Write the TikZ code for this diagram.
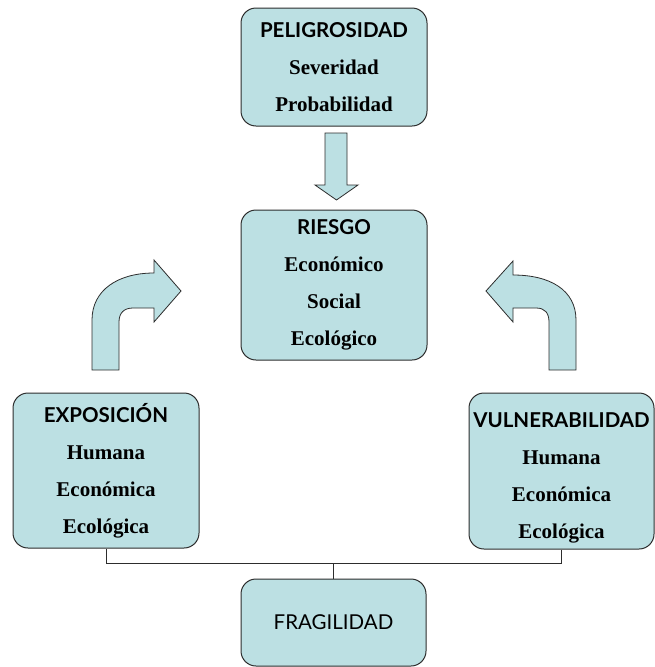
\documentclass[tikz,border=0pt]{standalone}
\usepackage{fontspec}
\setmainfont{Liberation Serif}
\newfontfamily\headfont{Lato}
\definecolor{boxfill}{RGB}{188,224,227}
\definecolor{boxline}{RGB}{45,45,45}
\newcommand{\boxhead}[1]{{\headfont\bfseries\fontsize{20.5}{37}\selectfont #1}}

\begin{document}
\begin{tikzpicture}[x=1pt, y=-1pt,
    box/.style={draw=boxline, fill=boxfill, rounded corners=15pt, line width=1pt,
      minimum width=186pt, inner sep=0pt, align=center,
      font=\fontsize{21}{37}\selectfont\bfseries},
    blockarrow/.style={draw=boxline, fill=boxfill, line width=0.8pt},
    link/.style={draw=boxline, line width=0.8pt}]
    \useasboundingbox (0,0) rectangle (655,667);

    \node (pel) at (334, 67) [box, minimum height=118pt] {\boxhead{PELIGROSIDAD}\\ Severidad\\ Probabilidad};
    \node (riesgo) at (334, 285) [box, minimum height=150pt] {\boxhead{RIESGO}\\ Económico\\ Social\\ Ecológico};
    \node (expo) at (106, 470.5) [box, minimum height=155pt] {\boxhead{EXPOSICIÓN}\\ Humana\\ Económica\\ Ecológica};
    \node (vuln) at (561.5, 471) [box, minimum width=185pt, minimum height=156pt] {\rule{0pt}{29pt}\boxhead{VULNERABILIDAD}\\ Humana\\ Económica\\ Ecológica};
    \node (fragil) at (333.5, 622.5) [box, minimum width=185pt, minimum height=87pt, font=\headfont\fontsize{20.5}{24}\selectfont] {FRAGILIDAD};

    % block arrows
    \draw[blockarrow] (325,133) -- (347,133) -- (347,185) -- (358,185) -- (336.5,200)
        -- (315,185) -- (325,185) -- cycle;
    \draw[blockarrow] (92,370) -- (92,320) .. controls (92,290) and (118,273) .. (154,273)
        -- (154,260) -- (181,291) -- (154,322) -- (154,308) -- (133,308)
        .. controls (124,308) and (119,313) .. (119,322) -- (119,370) -- cycle;
    \draw[blockarrow] (576,370) -- (576,320) .. controls (576,290) and (550,275) .. (513,275)
        -- (513,261) -- (486,291) -- (513,322) -- (513,308) -- (536,308)
        .. controls (545,308) and (549,313) .. (549,322) -- (549,370) -- cycle;

    % lines to fragilidad
    \coordinate (join) at (333.5, 563);
    \draw[link] (expo.south) |- (join);
    \draw[link] (vuln.south) |- (join);
    \draw[link] (join) -- (fragil.north);

\end{tikzpicture}
\end{document}
